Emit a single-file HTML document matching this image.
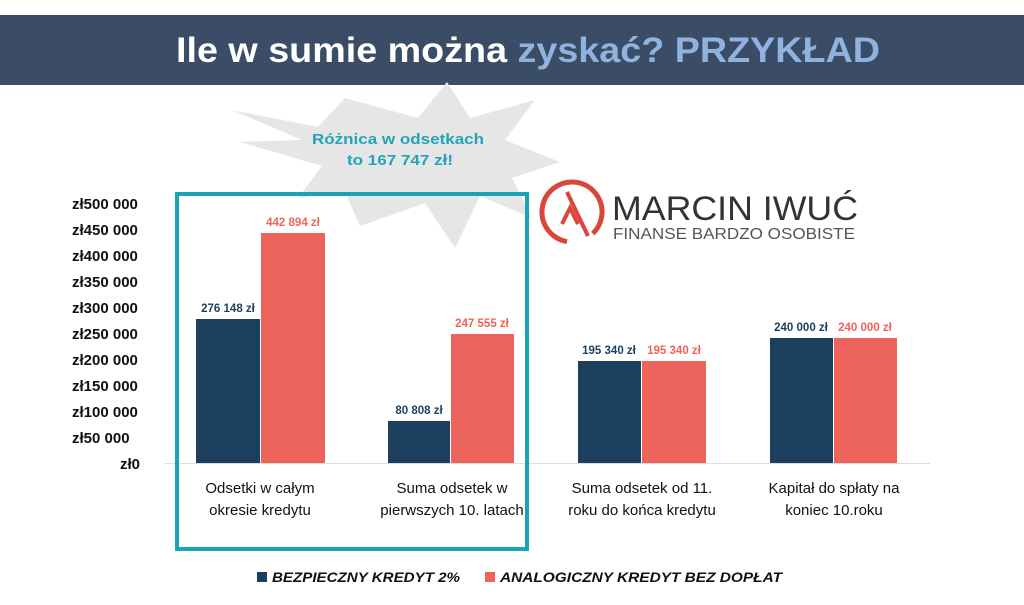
<!DOCTYPE html>
<html><head><meta charset="utf-8"><style>
html,body{margin:0;padding:0;background:#fff;}
svg{display:block;font-family:"Liberation Sans",sans-serif;}
</style></head><body>
<svg width="1024" height="605" viewBox="0 0 1024 605" xmlns="http://www.w3.org/2000/svg">
<rect x="0" y="0" width="1024" height="605" fill="#fff"/>
<rect x="0" y="15" width="1024" height="70" fill="#3b4c66"/>
<text x="528" y="62" text-anchor="middle" font-size="35" font-weight="bold" fill="#fff" textLength="704" lengthAdjust="spacingAndGlyphs">Ile w sumie można <tspan fill="#8fb3de">zyskać? PRZYKŁAD</tspan></text>
<polygon fill="#e6e6e6" points="232,110 318,127 345,98 418,118 447,82 470,118 535,100 505,140 560,162 512,178 532,218 480,196 455,248 425,203 360,226 345,192 298,198 322,166 240,142 302,140"/>
<text x="398" y="144" text-anchor="middle" font-size="14.5" font-weight="bold" fill="#22a4b8" textLength="172" lengthAdjust="spacingAndGlyphs">Różnica  w odsetkach</text>
<text x="400" y="165" text-anchor="middle" font-size="14.5" font-weight="bold" fill="#22a4b8" textLength="106" lengthAdjust="spacingAndGlyphs">to 167 747 zł!</text>
<!-- logo -->
<circle cx="572" cy="212" r="30" fill="none" stroke="#d9473c" stroke-width="5" stroke-dasharray="160 28" transform="rotate(100 572 212)"/>
<polyline points="562,224 570,208 578,224" fill="none" stroke="#d9473c" stroke-width="4"/>
<line x1="567" y1="192" x2="588" y2="236" stroke="#d9473c" stroke-width="4"/>
<text x="612" y="220" font-size="34" fill="#333" textLength="246" lengthAdjust="spacingAndGlyphs">MARCIN IWUĆ</text>
<text x="613" y="239" font-size="16" fill="#555" textLength="242" lengthAdjust="spacingAndGlyphs">FINANSE BARDZO OSOBISTE</text>
<!-- axis labels -->
<g font-size="15" font-weight="bold" fill="#111">
<text x="72" y="209">zł500 000</text><text x="72" y="235">zł450 000</text><text x="72" y="261">zł400 000</text><text x="72" y="287">zł350 000</text><text x="72" y="313">zł300 000</text><text x="72" y="339">zł250 000</text><text x="72" y="365">zł200 000</text><text x="72" y="391">zł150 000</text><text x="72" y="417">zł100 000</text><text x="72" y="443">zł50 000</text><text x="120" y="469">zł0</text>
</g>
<line x1="165" y1="463.5" x2="930" y2="463.5" stroke="#ddd" stroke-width="1"/>
<!-- bars -->
<rect x="196" y="319" width="64" height="144" fill="#1c3f5e"/>
<rect x="261" y="233" width="64" height="230" fill="#ec645b"/>
<rect x="388" y="421" width="62" height="42" fill="#1c3f5e"/>
<rect x="451" y="334" width="63" height="129" fill="#ec645b"/>
<rect x="578" y="361" width="63" height="102" fill="#1c3f5e"/>
<rect x="642" y="361" width="64" height="102" fill="#ec645b"/>
<rect x="770" y="338" width="63" height="125" fill="#1c3f5e"/>
<rect x="834" y="338" width="63" height="125" fill="#ec645b"/>
<g font-size="11.5" font-weight="bold" text-anchor="middle">
<text x="228" y="312" fill="#1c3f5e">276 148 zł</text>
<text x="293" y="226" fill="#ec645b">442 894 zł</text>
<text x="419" y="414" fill="#1c3f5e">80 808 zł</text>
<text x="482" y="327" fill="#ec645b">247 555 zł</text>
<text x="609" y="354" fill="#1c3f5e">195 340 zł</text>
<text x="674" y="354" fill="#ec645b">195 340 zł</text>
<text x="801" y="331" fill="#1c3f5e">240 000 zł</text>
<text x="865" y="331" fill="#ec645b">240 000 zł</text>
</g>
<g font-size="15" fill="#111" text-anchor="middle">
<text x="260" y="493">Odsetki w całym</text><text x="260" y="515">okresie kredytu</text>
<text x="452" y="493">Suma odsetek w</text><text x="452" y="515">pierwszych 10. latach</text>
<text x="642" y="493">Suma odsetek od 11.</text><text x="642" y="515">roku do końca kredytu</text>
<text x="834" y="493">Kapitał do spłaty na</text><text x="834" y="515">koniec 10.roku</text>
</g>
<rect x="177" y="194" width="350" height="355" fill="none" stroke="#1aa3b2" stroke-width="4"/>
<!-- legend -->
<rect x="257" y="572" width="10" height="10" fill="#1c3f5e"/>
<text x="272" y="582" font-size="14" font-weight="bold" font-style="italic" fill="#111" textLength="188" lengthAdjust="spacingAndGlyphs">BEZPIECZNY KREDYT 2%</text>
<rect x="485" y="572" width="10" height="10" fill="#ec645b"/>
<text x="500" y="582" font-size="14" font-weight="bold" font-style="italic" fill="#111" textLength="282" lengthAdjust="spacingAndGlyphs">ANALOGICZNY KREDYT BEZ DOPŁAT</text>
</svg>
</body></html>
